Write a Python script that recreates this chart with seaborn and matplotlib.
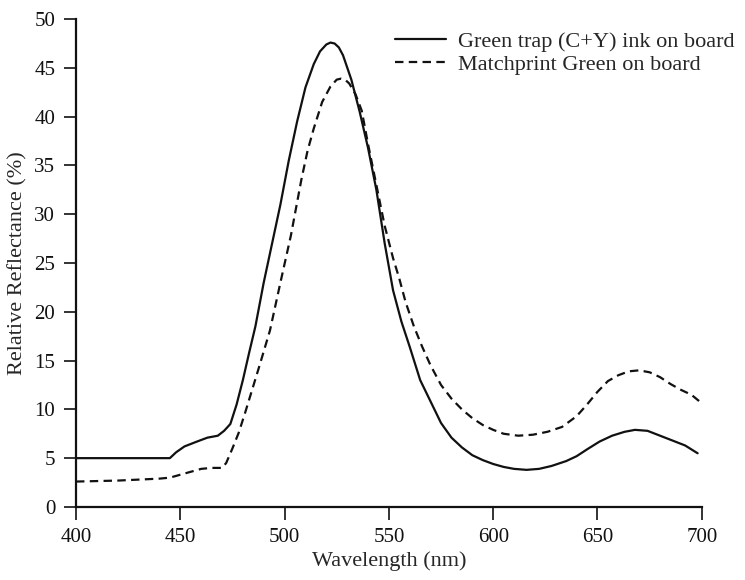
import numpy as np
import pandas as pd
import seaborn as sns
import matplotlib.pyplot as plt

# values
wl_trap = [400, 445, 448, 452, 458, 463, 468, 471, 474, 477, 480, 483, 486, 490, 494,
           498, 502, 506, 510, 514, 517, 520, 522, 524, 526, 528, 532, 536, 540, 544, 548, 552,
           556, 560, 565, 570, 575, 580, 585, 590, 595, 600, 605, 610, 616, 622, 628,
           635, 640, 645, 651, 657, 663, 668, 674, 680, 686, 692, 698]
refl_trap = [5.0, 5.0, 5.6, 6.2, 6.7, 7.1, 7.3, 7.8, 8.5, 10.5, 13.0, 15.8, 18.5, 23.0, 27.0,
             31.0, 35.5, 39.5, 43.0, 45.4, 46.7, 47.4, 47.6, 47.5, 47.1, 46.3, 43.8, 40.5, 36.8, 32.5, 27.0, 22.2,
             19.0, 16.4, 13.0, 10.8, 8.6, 7.1, 6.1, 5.3, 4.8, 4.4, 4.1, 3.9, 3.8, 3.9, 4.2,
             4.7, 5.2, 5.9, 6.7, 7.3, 7.7, 7.9, 7.8, 7.3, 6.8, 6.3, 5.5]

wl_match = [400, 420, 440, 445, 450, 455, 460, 465, 470, 472, 475, 478, 481, 484, 488,
            493, 498, 503, 508, 511, 514, 518, 522, 525, 527, 529, 531, 534, 537, 540, 544, 548,
            552, 555, 558, 562, 566, 570, 575, 580, 585, 590, 595, 600, 605, 612, 619,
            626, 633, 640, 645, 650, 655, 660, 665, 670, 675, 680, 685, 690, 695, 699]
refl_match = [2.6, 2.7, 2.9, 3.0, 3.3, 3.6, 3.9, 4.0, 4.0, 4.5, 6.0, 7.6, 9.6, 11.7, 14.5,
              18.1, 23.0, 27.8, 33.5, 36.5, 38.8, 41.5, 43.1, 43.8, 43.9, 43.8, 43.4, 42.3, 40.6, 37.2, 33.0, 28.8,
              25.5, 23.4, 21.0, 18.5, 16.4, 14.5, 12.5, 11.1, 10.0, 9.1, 8.4, 7.9, 7.5, 7.3, 7.4,
              7.7, 8.2, 9.3, 10.5, 11.8, 12.9, 13.5, 13.9, 14.0, 13.8, 13.3, 12.6, 12.0, 11.5, 10.8]

label_trap = "Green trap (C+Y) ink on board"
label_match = "Matchprint Green on board"
yticks = [0, 5, 10, 15, 20, 25, 30, 35, 40, 45, 50]
xticks = [400, 450, 500, 550, 600, 650, 700]

trap = pd.DataFrame({"wl": wl_trap, "refl": refl_trap})
match = pd.DataFrame({"wl": wl_match, "refl": refl_match})

sns.set_style("ticks")
plt.rcParams["font.family"] = ["Liberation Serif", "DejaVu Serif"]

fig = plt.figure(figsize=(7.45, 5.8), dpi=100)
ax = fig.add_axes([0.102, 0.126, 0.840, 0.841])

sns.lineplot(data=trap, x="wl", y="refl", ax=ax, color="#111111", lw=1.6, label=label_trap)
sns.lineplot(data=match, x="wl", y="refl", ax=ax, color="#111111", lw=1.6,
             dashes=(3.8, 2.4), label=label_match)

ax.set_xlim(400, 700)
ax.set_ylim(0, 50)
ax.set_xticks(xticks)
ax.set_yticks(yticks)
ax.tick_params(labelsize=15, length=9, width=1.2, colors="#111111", pad=6)
ax.set_xlabel("Wavelength (nm)", fontsize=16, labelpad=3)
ax.set_ylabel("Relative Reflectance (%)", fontsize=16, labelpad=5)
for s in ["top", "right"]:
    ax.spines[s].set_visible(False)
for s in ["left", "bottom"]:
    ax.spines[s].set_linewidth(1.6)
    ax.spines[s].set_color("#111111")

ax.legend(loc="upper left", bbox_to_anchor=(0.53, 0.946), bbox_transform=fig.transFigure,
          frameon=False, fontsize=16, borderpad=0, borderaxespad=0,
          handlelength=2.3, handletextpad=0.55, labelspacing=0.1)

plt.savefig("out.png", dpi=100)
